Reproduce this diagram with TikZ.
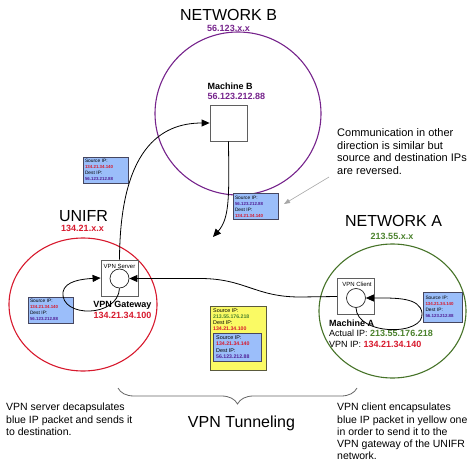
\documentclass[tikz,border=0pt]{standalone}
\usepackage{fontspec}
\setmainfont{Liberation Sans}
\usetikzlibrary{arrows.meta,shapes.geometric,decorations.pathreplacing}
\definecolor{purpC}{RGB}{118,36,140}
\definecolor{purpT}{RGB}{80,30,150}
\definecolor{redC}{RGB}{215,25,45}
\definecolor{greenC}{RGB}{70,115,40}
\definecolor{greenT}{RGB}{75,130,45}
\definecolor{pktblue}{RGB}{155,190,250}
\definecolor{pktborder}{RGB}{70,70,95}
\definecolor{yelfill}{RGB}{250,250,100}
\definecolor{yelborder}{RGB}{90,90,60}
\definecolor{boxgray}{RGB}{95,95,95}
\newcommand{\ipnum}[2]{{\color{#1}\bfseries\fontsize{4.4}{6}\selectfont #2}}
\newcommand{\pkttext}[4]{Source IP:\\\ipnum{#1}{#2}\\Dest IP:\\\ipnum{#3}{#4}}
\begin{document}
\begin{tikzpicture}[x=1pt,y=-1pt,
  title/.style={font=\fontsize{16}{19}\selectfont, inner sep=0, anchor=base},
  netip/.style={font=\bfseries\fontsize{9}{10.5}\selectfont, inner sep=0, anchor=base},
  net/.style={draw, ellipse, line width=1.1pt, inner sep=0},
  mach/.style={draw=boxgray, line width=0.8pt, minimum width=37pt, minimum height=36pt, inner sep=0},
  port/.style={draw=black!85, circle, line width=0.7pt, minimum size=19pt, inner sep=0},
  tag/.style={font=\fontsize{6}{7}\selectfont, inner sep=0},
  pkt/.style={draw=pktborder, fill=pktblue, line width=0.7pt, minimum height=26pt, inner sep=2pt, text width=41pt, align=left, font=\fontsize{4.8}{6}\selectfont},
  flow/.style={line width=0.8pt, -{Triangle[length=8pt,width=7pt]}},
  hint/.style={draw=black!35, line width=0.6pt, -{Triangle[length=6pt,width=4.5pt]}},
  note/.style={align=left, inner sep=0, anchor=north west, font=\fontsize{10.5}{12.2}\selectfont},
  label9/.style={align=left, inner sep=0, font=\fontsize{9}{10.5}\selectfont}
]
\useasboundingbox (0,0) rectangle (474,468);

% networks
\node[net, draw=purpC, minimum width=166pt, minimum height=163pt] (cB) at (238,113.5) {};
\node[net, draw=redC, minimum width=148pt, minimum height=133pt] (cU) at (83,304.5) {};
\node[net, draw=greenC, minimum width=147pt, minimum height=134pt] (cA) at (392.5,311) {};

\node[title] (tB) at (228.5,21) {NETWORK B};
\node[netip, text=purpC] (ipB) at (228.5,31.5) {56.123.x.x};
\node[title] (tU) at (83.5,222) {UNIFR};
\node[netip, text=redC] (ipU) at (82.5,231.5) {134.21.x.x};
\node[title] (tA) at (393.5,226.5) {NETWORK A};
\node[netip, text=greenT] (ipA) at (392,239) {213.55.x.x};

% machine B
\node[label9, anchor=north west, font=\bfseries\fontsize{9}{10}\selectfont] (lB) at (207.5,83)
  {Machine B\\\textcolor{purpC}{56.123.212.88}};
\node[mach] (mB) at (228.5,123) {};

% VPN server
\node[mach] (srv) at (119.5,278) {};
\node[port] (srvc) at (119.5,278.5) {};
\node[tag] (srvt) at (119.5,266.5) {VPN Server};
\node[label9, align=center, font=\bfseries\fontsize{9}{10.5}\selectfont] (gw) at (122.5,310)
  {VPN Gateway\\\textcolor{redC}{134.21.34.100}};

% VPN client
\node[mach] (cl) at (356,296.5) {};
\node[port] (clc) at (356,298) {};
\node[tag] (clt) at (357,284.5) {VPN Client};
\node[label9, anchor=north west] (mA) at (329,319.5)
  {\textbf{Machine A}\\Actual IP: \textbf{\textcolor{greenT}{213.55.176.218}}\\VPN IP: \textbf{\textcolor{redC}{134.21.34.140}}};

% packets
\node[pkt] (p1) at (105.5,170) {\pkttext{redC}{134.21.34.140}{purpT}{56.123.212.88}};
\node[pkt] (p2) at (255.5,206.5) {\pkttext{purpT}{56.123.212.88}{redC}{134.21.34.140}};
\node[pkt] (p3) at (50.5,310) {\pkttext{redC}{134.21.34.140}{purpT}{56.123.212.88}};
\node[pkt, text width=35pt, minimum height=30pt] (p4) at (443,307) {\pkttext{redC}{134.21.34.140}{purpT}{56.123.212.88}};

\node[draw=yelborder, fill=yelfill, line width=0.7pt, minimum width=56pt, minimum height=64pt, inner sep=0] (yel) at (238,338) {};
\node[align=left, inner sep=0, anchor=north west, font=\fontsize{5.4}{6.1}\selectfont] (yelt) at (213,308.5)
  {Source IP:\\{\color{greenT}\bfseries\fontsize{5.2}{6.1}\selectfont 213.55.176.218}\\Dest IP:\\{\color{redC}\bfseries\fontsize{5.2}{6.1}\selectfont 134.21.34.100}};
\node[draw=pktborder, fill=pktblue, line width=0.7pt, minimum width=48pt, minimum height=28pt, inner sep=0] (inner) at (237,347) {};
\node[align=left, inner sep=0, anchor=north west, font=\fontsize{5.4}{6.3}\selectfont] (innert) at (216,335.5)
  {Source IP:\\{\color{redC}\bfseries\fontsize{5.2}{6.3}\selectfont 134.21.34.140}\\Dest IP:\\{\color{purpT}\bfseries\fontsize{5.2}{6.3}\selectfont 56.123.212.88}};

% notes
\node[note, font=\fontsize{11}{12.6}\selectfont] (comm) at (337,128.5)
  {Communication in other\\direction is similar but\\source and destination IPs\\are reversed.};
\node[note] (nL) at (6,403) {VPN server decapsulates\\blue IP packet and sends it\\to destination.};
\node[note] (nR) at (337,403) {VPN client encapsulates\\blue IP packet in yellow one\\in order to send it to the\\VPN gateway of the UNIFR\\network.};
\node[font=\fontsize{16}{19}\selectfont, inner sep=0] (tun) at (241.5,423.5) {VPN Tunneling};

% connectors
\coordinate (downEnd) at (213,237);
\coordinate (hintS) at (329,177);
\coordinate (hintE) at (284,204);
\coordinate (brL) at (118,388);
\coordinate (brR) at (357,388);

\draw[flow] (srv.north) .. controls (120,150) and (160,123) .. (mB.west);
\draw[flow] (mB.south) .. controls (229,195) and (230,218) .. (downEnd);
\draw[flow] (cl.west) -- (300,297) .. controls (255,297) and (245,278.5) .. (200,278.5) -- (srvc.east);
\draw[flow] (clc.south) .. controls (357,336) and (425,336) .. (422,313) .. controls (420,297) and (395,298) .. (clc.east);
\draw[flow] (srvc.south) .. controls (118,318) and (60,318) .. (63,292) .. controls (65,281) and (82,279) .. (srv.west);
\draw[hint] (hintS) -- (hintE);
\draw[black!60, line width=0.8pt, decorate, decoration={brace, mirror, amplitude=16pt}] (brL) -- (brR);
\end{tikzpicture}
\end{document}
